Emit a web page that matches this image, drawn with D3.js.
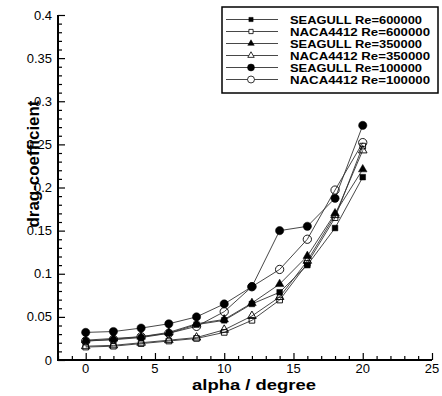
<!DOCTYPE html>
<html>
<head>
<meta charset="utf-8">
<script src="https://cdn.jsdelivr.net/npm/d3@7"></script>
<style>
  html, body { margin: 0; padding: 0; background: #fff; }
  svg { display: block; font-family: Arial, "Liberation Sans", sans-serif; }
</style>
</head>
<body>
<div id="chart"></div>
<script>
// angle of attack (degree)
const alpha = [0, 2, 4, 6, 8, 10, 12, 14, 16, 18, 20];

// drag coefficient
const seagull600 = [0.022, 0.0235, 0.026, 0.031, 0.041, 0.046, 0.065, 0.0785, 0.110, 0.153, 0.212];
const naca600    = [0.015, 0.016, 0.019, 0.022, 0.025, 0.032, 0.046, 0.0695, 0.112, 0.165, 0.248];
const seagull350 = [0.023, 0.025, 0.027, 0.032, 0.042, 0.047, 0.066, 0.088, 0.1205, 0.170, 0.221];
const naca350    = [0.016, 0.017, 0.020, 0.023, 0.026, 0.035, 0.051, 0.073, 0.115, 0.168, 0.243];
const seagull100 = [0.032, 0.033, 0.037, 0.042, 0.050, 0.065, 0.085, 0.150, 0.155, 0.1875, 0.272];
const naca100    = [0.022, 0.024, 0.027, 0.031, 0.039, 0.056, 0.085, 0.105, 0.140, 0.197, 0.252];

const seriesNames = [
  'SEAGULL Re=600000', 'NACA4412 Re=600000',
  'SEAGULL Re=350000', 'NACA4412 Re=350000',
  'SEAGULL Re=100000', 'NACA4412 Re=100000'
];
const seriesValues = [seagull600, naca600, seagull350, naca350, seagull100, naca100];
const seriesMarkers = ['square', 'square', 'triangle', 'triangle', 'circle', 'circle'];
const seriesFilled = [true, false, true, false, true, false];

const xTicks = [0, 5, 10, 15, 20, 25];
const yTicks = [0, 0.05, 0.1, 0.15, 0.2, 0.25, 0.3, 0.35, 0.4];

const width = 442, height = 396;
const svg = d3.select('#chart').append('svg')
  .attr('width', width)
  .attr('height', height);

// scales
const x = d3.scaleLinear().domain([-2, 25]).range([58, 432]);
const y = d3.scaleLinear().domain([0, 0.4]).range([360, 15]);

// marker shapes
const symbolType = { square: d3.symbolSquare, triangle: d3.symbolTriangle, circle: d3.symbolCircle };
const symbolSize = { square: 32, triangle: 32, circle: 54 };

// data lines
const line = d3.line()
  .x(d => x(d[0]))
  .y(d => y(d[1]));

const series = seriesNames.map((name, i) => ({
  name: name,
  marker: seriesMarkers[i],
  filled: seriesFilled[i],
  points: alpha.map((a, j) => [a, seriesValues[i][j]])
}));

const plot = svg.append('g');

plot.selectAll('path.series')
  .data(series)
  .enter()
  .append('path')
  .attr('class', 'series')
  .attr('d', d => line(d.points))
  .attr('fill', 'none')
  .attr('stroke', '#333')
  .attr('stroke-width', 0.9);

series.forEach(s => {
  plot.selectAll(null)
    .data(s.points)
    .enter()
    .append('path')
    .attr('transform', d => `translate(${x(d[0])},${y(d[1])})`)
    .attr('d', d3.symbol().type(symbolType[s.marker]).size(symbolSize[s.marker]))
    .attr('fill', s.filled ? '#000' : 'none')
    .attr('stroke', '#000')
    .attr('stroke-width', s.filled ? 0.5 : 0.9);
});

// axes (ticks pointing inwards, minor ticks in between)
const xAxis = svg.append('g').attr('transform', `translate(0,${y(0)})`);
xAxis.call(d3.axisBottom(x).tickValues(d3.range(-2, 26, 1)).tickSize(-4).tickFormat(''));
xAxis.call(g => g.selectAll('.tick').filter(d => d % 5 === 0).select('line').attr('y2', -7));
xAxis.select('.domain').remove();

const yAxis = svg.append('g').attr('transform', `translate(${x(-2)},0)`);
yAxis.call(d3.axisLeft(y).tickValues(d3.range(0, 41, 1).map(v => v / 100)).tickSize(-4).tickFormat(''));
yAxis.call(g => g.selectAll('.tick').filter((d, i) => i % 5 === 0).select('line').attr('x2', 7));
yAxis.select('.domain').remove();

svg.selectAll('.tick line').attr('stroke', '#000').attr('stroke-width', 1.2);

// axis lines
svg.append('path')
  .attr('d', `M${x(-2)},${y(0.4)}V${y(0)}H${x(25)}`)
  .attr('fill', 'none')
  .attr('stroke', '#000')
  .attr('stroke-width', 2);

// tick labels
svg.append('g').selectAll('text')
  .data(xTicks)
  .enter()
  .append('text')
  .attr('x', d => x(d))
  .attr('y', y(0) + 13)
  .attr('text-anchor', 'middle')
  .style('font-size', '13px')
  .text(d => d);

svg.append('g').selectAll('text')
  .data(yTicks)
  .enter()
  .append('text')
  .attr('x', 52)
  .attr('y', d => y(d) + 4.5)
  .attr('text-anchor', 'end')
  .style('font-size', '13px')
  .text(d => d3.format('')(+d.toFixed(2)));

// axis titles
svg.append('text')
  .attr('x', 254)
  .attr('y', 390)
  .attr('text-anchor', 'middle')
  .attr('textLength', 124)
  .attr('lengthAdjust', 'spacingAndGlyphs')
  .style('font-size', '15px')
  .style('font-weight', 'bold')
  .text('alpha / degree');

svg.append('text')
  .attr('transform', 'translate(39,164) rotate(-90)')
  .attr('text-anchor', 'middle')
  .attr('textLength', 127)
  .attr('lengthAdjust', 'spacingAndGlyphs')
  .style('font-size', '16px')
  .style('font-weight', 'bold')
  .text('drag-coefficient');

// legend
const legend = svg.append('g');
legend.append('rect')
  .attr('x', 222)
  .attr('y', 7)
  .attr('width', 216)
  .attr('height', 86)
  .attr('fill', '#fff')
  .attr('stroke', '#000')
  .attr('stroke-width', 1.5);

const rows = legend.selectAll('g.row')
  .data(series)
  .enter()
  .append('g')
  .attr('class', 'row')
  .attr('transform', (d, i) => `translate(0,${19.5 + i * 12})`);

rows.append('line')
  .attr('x1', 226)
  .attr('x2', 278)
  .attr('stroke', '#333')
  .attr('stroke-width', 0.9);

rows.append('path')
  .attr('transform', 'translate(251,0)')
  .attr('d', d => d3.symbol().type(symbolType[d.marker]).size(d.marker === 'circle' ? 38 : 18)())
  .attr('fill', d => d.filled ? '#000' : '#fff')
  .attr('stroke', '#000')
  .attr('stroke-width', d => d.filled ? 0.5 : 0.8);

rows.append('text')
  .attr('x', 290)
  .attr('y', 4)
  .attr('textLength', d => d.name.startsWith('SEAGULL') ? 132 : 140)
  .attr('lengthAdjust', 'spacingAndGlyphs')
  .style('font-size', '11px')
  .style('font-weight', 'bold')
  .text(d => d.name);
</script>
</body>
</html>
